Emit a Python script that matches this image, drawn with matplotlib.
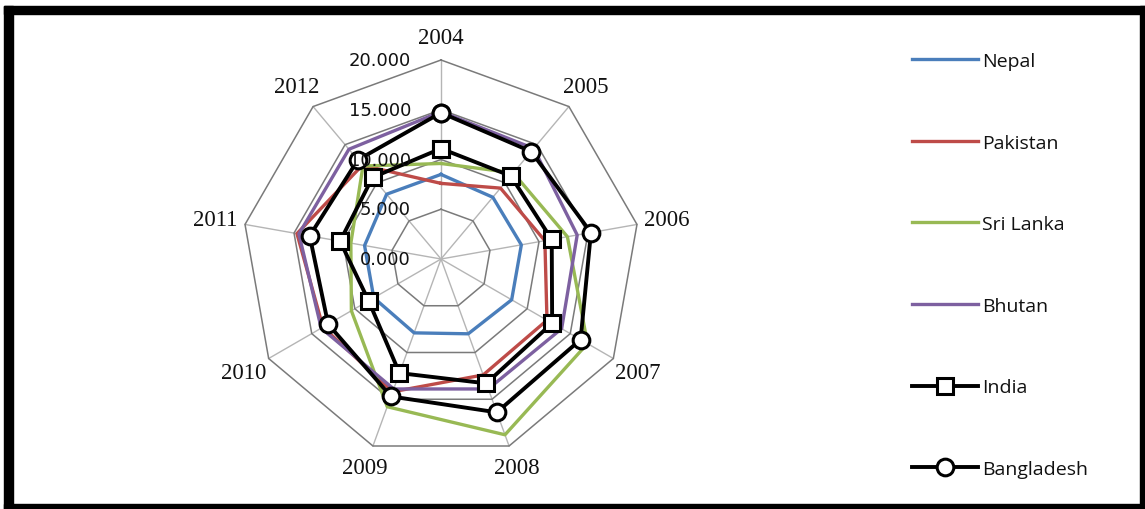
import numpy as np
import matplotlib
matplotlib.use("Agg")
import matplotlib.pyplot as plt
from matplotlib.patches import Rectangle
from matplotlib.transforms import offset_copy

# ---- data ----
years = ["2004", "2005", "2006", "2007", "2008", "2009", "2010", "2011", "2012"]
nepal = [8500, 8100, 8200, 8200, 8000, 7900, 7800, 7800, 8500]
pakistan = [7600, 9300, 10600, 12300, 12400, 14200, 13700, 14700, 12300]
sri_lanka = [9600, 11300, 12900, 17000, 18800, 15800, 10400, 9200, 12200]
bhutan = [14800, 14500, 13900, 14000, 13900, 13900, 13900, 14500, 14400]
india = [11100, 10900, 11300, 12900, 13300, 12200, 8400, 10300, 10700]
bangladesh = [14700, 14100, 15300, 16200, 16400, 14700, 13100, 13400, 13000]
ring_values = [0, 5000, 10000, 15000, 20000]
ring_labels = ["0.000", "5.000", "10.000", "15.000", "20.000"]

W, H = 1145, 510
fig = plt.figure(figsize=(W / 100, H / 100), dpi=100)
fig.patch.set_facecolor("white")

cx, cy, R = 441, 260, 199
ax = fig.add_axes([(cx - R) / W, (H - cy - R) / H, 2 * R / W, 2 * R / H],
                  projection="polar")
ax.set_theta_zero_location("N")
ax.set_theta_direction(-1)
rmax = ring_values[-1]
ax.set_ylim(0, rmax)
ax.set_axis_off()

n = len(years)
theta = np.arange(n) * 2 * np.pi / n
theta_closed = np.append(theta, theta[0])


def closed(vals):
    return np.append(vals, vals[0])


# spokes
for t in theta:
    ax.plot([t, t], [0, rmax], color="#b5b5b5", lw=1.0,
            zorder=1, clip_on=False)
# rings
for rv in ring_values[1:]:
    ax.plot(theta_closed, [rv] * (n + 1), color="#7a7a7a", lw=1.1,
            zorder=1.2, clip_on=False)

series = [
    ("Nepal", nepal, dict(color="#4a7ebb", lw=2.4)),
    ("Pakistan", pakistan, dict(color="#be4b48", lw=2.4)),
    ("Sri Lanka", sri_lanka, dict(color="#98b954", lw=2.4)),
    ("Bhutan", bhutan, dict(color="#7d60a0", lw=2.4)),
    ("India", india, dict(color="black", lw=2.8, marker="s", ms=11,
                          mfc="white", mec="black", mew=2.2)),
    ("Bangladesh", bangladesh, dict(color="black", lw=2.8, marker="o", ms=12,
                                    mfc="white", mec="black", mew=2.2)),
]
handles = []
for i, (name, vals, style) in enumerate(series):
    ln, = ax.plot(theta_closed, closed(vals), label=name, zorder=3 + i,
                  clip_on=False, **style)
    handles.append(ln)

# radial value labels to the left of the top spoke
tick_tr = offset_copy(ax.transData, fig=fig, x=-30, y=0, units="dots")
for rv, lab in zip(ring_values, ring_labels):
    ax.text(0, rv, lab, transform=tick_tr, ha="right", va="center",
            fontsize=13, family="DejaVu Sans", color="#111111", zorder=20)

# category labels, pushed a little further out on the sides
for t, yr in zip(theta, years):
    r_lab = (221 + 9 * np.sin(t) ** 2) * rmax / R
    ax.text(t, r_lab, yr, ha="center", va="center", fontsize=16.5,
            family="Liberation Serif", color="#111111", clip_on=False)

leg = fig.legend(handles=handles, loc="upper left",
                 bbox_to_anchor=(912 / W, 1 - 53 / H),
                 frameon=False, borderpad=0, borderaxespad=0,
                 handlelength=3.4, handletextpad=0.2, labelspacing=3.27,
                 prop=dict(family="Open Sans", size=14))
for t in leg.get_texts():
    t.set_color("#111111")

# black outer frame
frame_parts = [(4, 7, 9, H - 7), (4, 7, W - 4, 8), (W - 5, 7, 5, H - 7),
               (4, H - 5, W - 4, 5)]
for x0, y0, w, h in frame_parts:
    fig.patches.append(Rectangle((x0 / W, 1 - (y0 + h) / H), w / W, h / H,
                                 transform=fig.transFigure, color="black",
                                 zorder=100))

fig.savefig("out.png", dpi=100)
